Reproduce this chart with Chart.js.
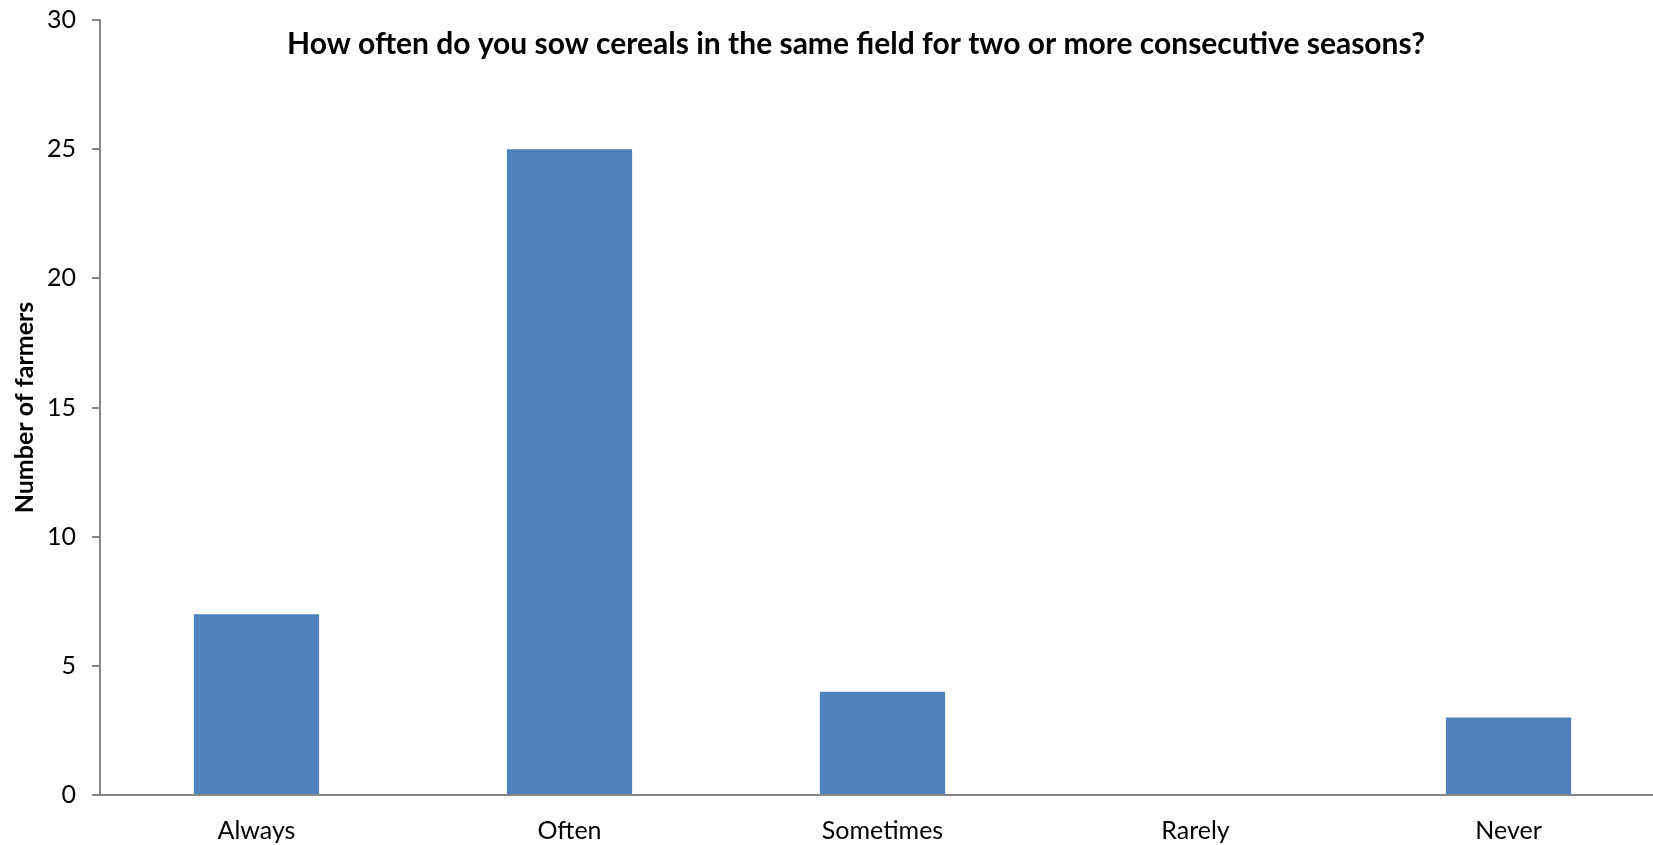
<!DOCTYPE html>
<html>
<head>
<meta charset="utf-8">
<script src="https://cdn.jsdelivr.net/npm/chart.js@4"></script>
<style>
  html, body { margin: 0; padding: 0; background: #fff; overflow: hidden; }
  #wrap { width: 1665px; height: 845px; }
</style>
</head>
<body>
<div id="wrap"><canvas id="sow-chart" width="1665" height="845"></canvas></div>
<script>
const answers = ["Always", "Often", "Sometimes", "Rarely", "Never"];
const farmers = [7, 25, 4, 0, 3];
const yTicks = [0, 5, 10, 15, 20, 25, 30];

const chartTitle = "How often do you sow cereals in the same field for two or more consecutive seasons?";
const axisGrey = "#868686";
const font = "Lato, 'Open Sans', sans-serif";

// title sits inside the plot area, so draw it by hand
const titleInside = {
  id: "titleInside",
  afterDraw(chart) {
    const { ctx, chartArea } = chart;
    ctx.save();
    ctx.font = "bold 30px " + font;
    ctx.fillStyle = "#000";
    ctx.textAlign = "center";
    ctx.textBaseline = "middle";
    ctx.fillText(chartTitle, chartArea.left + 756, chartArea.top + 24);
    ctx.restore();
  },
};

const ctxSow = document.getElementById("sow-chart");

new Chart(ctxSow, {
  type: "bar",
  data: {
    labels: answers,
    datasets: [
      {
        label: "Number of farmers",
        data: farmers,
        backgroundColor: "#4F81BD",
        borderWidth: 0,
        barPercentage: 0.4,
        categoryPercentage: 1,
      },
    ],
  },
  options: {
    responsive: false,
    animation: false,
    devicePixelRatio: 1,
    layout: { padding: { top: 20, left: 0, right: 0, bottom: 0 } },
    scales: {
      x: {
        grid: { display: false, drawTicks: false },
        border: { display: true, color: axisGrey, width: 2 },
        ticks: { color: "#000", font: { family: font, size: 25 }, padding: 21 },
        afterFit: (scale) => {
          scale.height = 50;
        },
      },
      y: {
        min: 0,
        max: 30,
        afterBuildTicks: (scale) => {
          scale.ticks = yTicks.map((v) => ({ value: v }));
        },
        grid: { display: true, drawOnChartArea: false, color: axisGrey, tickLength: 8, lineWidth: 2 },
        border: { display: true, color: axisGrey, width: 2 },
        ticks: { color: "#000", font: { family: font, size: 25 }, padding: 16 },
        title: {
          display: true,
          text: "Number of farmers",
          color: "#000",
          font: { family: font, size: 25, weight: "bold" },
          padding: { top: 10, bottom: 0 },
        },
        afterFit: (scale) => {
          scale.width = 100;
          scale.paddingTop = 0;
          scale.paddingBottom = 0;
        },
      },
    },
    plugins: {
      legend: { display: false },
      tooltip: { enabled: false },
    },
  },
  plugins: [titleInside],
});
</script>
</body>
</html>
